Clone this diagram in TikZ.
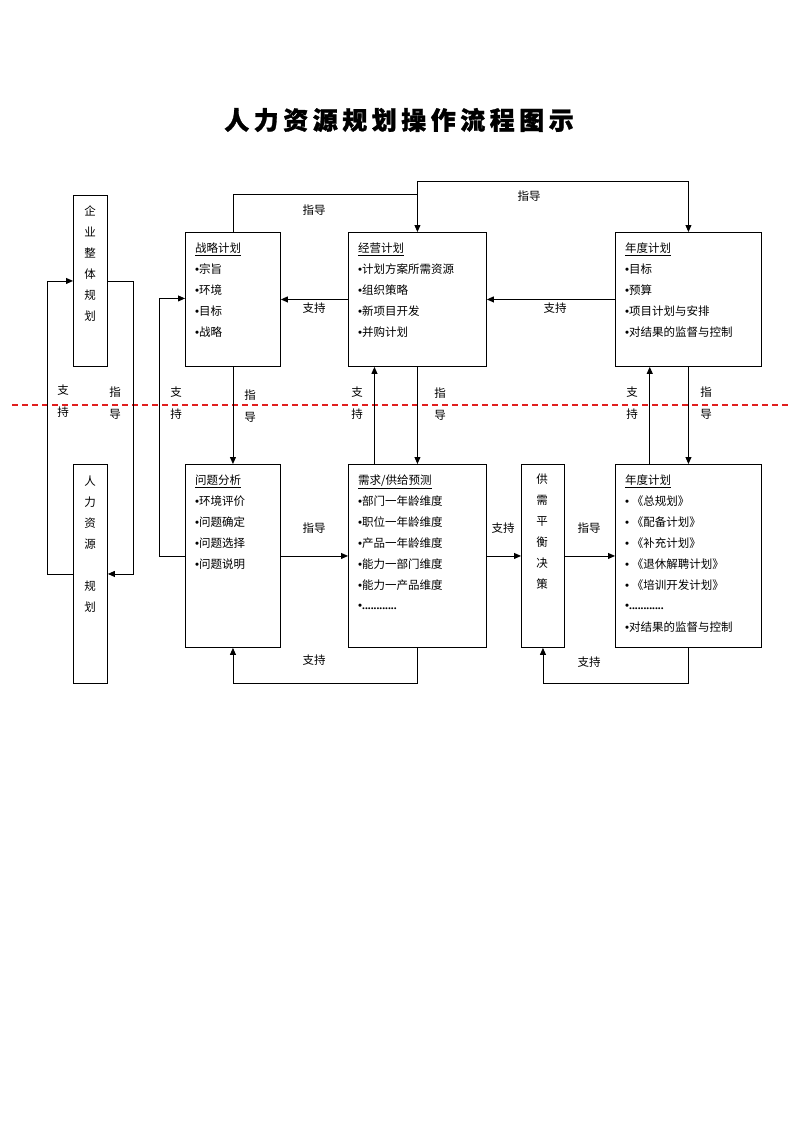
\documentclass[tikz,border=0pt]{standalone}
\usepackage{fontspec}
\setmainfont{Noto Sans CJK SC}
\newfontfamily\titlefont[LetterSpace=18,FakeBold=1.2]{Noto Sans CJK SC}
\newfontfamily\latinfont{Liberation Serif}
\newcommand\mybul{{\latinfont\bfseries •}}
\usetikzlibrary{arrows.meta}
\definecolor{sepred}{RGB}{225,30,30}
\tikzset{
  box/.style={draw, line width=0.9pt, inner sep=0pt, anchor=north west},
  conn/.style={line width=0.9pt},
  arr/.style={conn, -{Triangle[length=7pt,width=6pt]}},
  lbl/.style={font=\fontsize{11.5}{14}\selectfont, inner sep=0pt},
  vlbl/.style={align=center, font=\fontsize{11.5}{21.5}\selectfont, inner sep=0pt},
  vtxt/.style={align=center, font=\fontsize{11.5}{21}\selectfont, inner sep=0pt},
  txt/.style={anchor=base west, font=\fontsize{11.5}{14}\selectfont, inner sep=0pt},
  sep/.style={draw=sepred, line width=1.1pt, dash pattern=on 6pt off 4pt},
}
\begin{document}
\begin{tikzpicture}[x=1pt,y=-1pt]
\useasboundingbox (0,0) rectangle (800,1132);
\fill[white] (0,0) rectangle (800,1132);

% title
\node[font=\titlefont\bfseries\fontsize{25}{28}\selectfont, inner sep=0pt] (title) at (399,120) {人力资源规划操作流程图示};

% left boxes
\node[box, minimum width=34, minimum height=171] (qy) at (73,195) {};
\node[vtxt] (qyt) at (90,264) {企\\业\\整\\体\\规\\划};
\node[box, minimum width=34, minimum height=219] (rl) at (73,464) {};
\node[vtxt] (rlt) at (90,544) {人\\力\\资\\源\\~\\规\\划};

% top row
\node[box, minimum width=95, minimum height=134] (zl) at (185,232) {};
\node[box, minimum width=138, minimum height=134] (jy) at (348,232) {};
\node[box, minimum width=146, minimum height=134] (nd1) at (615,232) {};

% bottom row
\node[box, minimum width=95, minimum height=183] (wt) at (185,464) {};
\node[box, minimum width=138, minimum height=183] (xq) at (348,464) {};
\node[box, minimum width=43, minimum height=183] (gx) at (521,464) {};
\node[vtxt] (gxt) at (542,531.5) {供\\需\\平\\衡\\决\\策};
\node[box, minimum width=146, minimum height=183] (nd2) at (615,464) {};

% texts top row
\node[txt] (zl0) at (195,252.5) {\underline{战略计划}};
\node[txt] (zl1) at (195,273) {\mybul 宗旨};
\node[txt] (zl2) at (195,294) {\mybul 环境};
\node[txt] (zl3) at (195,315) {\mybul 目标};
\node[txt] (zl4) at (195,336) {\mybul 战略};

\node[txt] (jy0) at (358,252.5) {\underline{经营计划}};
\node[txt] (jy1) at (358,273) {\mybul 计划方案所需资源};
\node[txt] (jy2) at (358,294) {\mybul 组织策略};
\node[txt] (jy3) at (358,315) {\mybul 新项目开发};
\node[txt] (jy4) at (358,336) {\mybul 并购计划};

\node[txt] (nda0) at (625,252.5) {\underline{年度计划}};
\node[txt] (nda1) at (625,273) {\mybul 目标};
\node[txt] (nda2) at (625,294) {\mybul 预算};
\node[txt] (nda3) at (625,315) {\mybul 项目计划与安排};
\node[txt] (nda4) at (625,336) {\mybul 对结果的监督与控制};

% texts bottom row
\node[txt] (wt0) at (195,484.5) {\underline{问题分析}};
\node[txt] (wt1) at (195,505) {\mybul 环境评价};
\node[txt] (wt2) at (195,526) {\mybul 问题确定};
\node[txt] (wt3) at (195,547) {\mybul 问题选择};
\node[txt] (wt4) at (195,568) {\mybul 问题说明};

\node[txt] (xq0) at (358,484.5) {\underline{需求/供给预测}};
\node[txt] (xq1) at (358,505) {\mybul 部门一年龄维度};
\node[txt] (xq2) at (358,526) {\mybul 职位一年龄维度};
\node[txt] (xq3) at (358,547) {\mybul 产品一年龄维度};
\node[txt] (xq4) at (358,568) {\mybul 能力一部门维度};
\node[txt] (xq5) at (358,589) {\mybul 能力一产品维度};
\node[txt] (xq6) at (358,609) {\mybul{\latinfont\bfseries ............}};

\node[txt] (ndb0) at (625,484.5) {\underline{年度计划}};
\node[txt] (ndb1) at (625,505) {\mybul\ 《总规划》};
\node[txt] (ndb2) at (625,526) {\mybul\ 《配备计划》};
\node[txt] (ndb3) at (625,547) {\mybul\ 《补充计划》};
\node[txt] (ndb4) at (625,568) {\mybul\ 《退休解聘计划》};
\node[txt] (ndb5) at (625,589) {\mybul\ 《培训开发计划》};
\node[txt] (ndb6) at (625,609) {\mybul{\latinfont\bfseries ............}};
\node[txt] (ndb7) at (625,631) {\mybul 对结果的监督与控制};

% separator
\coordinate (sepL) at (12,405);
\coordinate (sepR) at (788,405);
\draw[sep] (sepL) -- (sepR);

% left loop
\draw[arr] (rl.west) -- ++(-26,0) |- (qy.west);
\draw[arr] (qy.east) -- ++(26,0) |- (rl.east);
\node[vlbl] (l1) at (63,401) {支\\持};
\node[vlbl] (l2) at (115,403) {指\\导};

% second loop
\draw[arr] (wt.west) -- ++(-26,0) |- ([yshift=1pt]zl.west);
\node[vlbl] (l3) at (176,403) {支\\持};

% top connectors
\coordinate (jmid) at (jy.north |- 0,194.3);
\coordinate (jtop) at (jy.north |- 0,181);
\draw[arr] (zl.north) |- (jmid) -- (jy.north);
\draw[conn] (jmid) -- (jtop);
\draw[arr] (jtop) -| (nd1.north);
\node[lbl] (l4) at (314,210) {指导};
\node[lbl] (l5) at (529,196) {指导};

\draw[arr] (jy.west) -- (zl.east);
\draw[arr] (nd1.west) -- (jy.east);
\node[lbl] (l6) at (314,308) {支持};
\node[lbl] (l7) at (555,308) {支持};

% vertical connectors
\draw[arr] (zl.south) -- (wt.north);
\node[vlbl] (l8) at (250,406) {指\\导};
\draw[arr] ([xshift=-43pt]xq.north) -- ([xshift=-43pt]jy.south);
\node[vlbl] (l9) at (357,403) {支\\持};
\draw[arr] (jy.south) -- (xq.north);
\node[vlbl] (l10) at (440,404) {指\\导};
\draw[arr] ([xshift=-38.7pt]nd2.north) -- ([xshift=-38.7pt]nd1.south);
\node[vlbl] (l11) at (632,403) {支\\持};
\draw[arr] (nd1.south) -- (nd2.north);
\node[vlbl] (l12) at (706,403) {指\\导};

% bottom horizontal
\draw[arr] (wt.east) -- (xq.west);
\node[lbl] (l13) at (314,528) {指导};
\draw[arr] (xq.east) -- (gx.west);
\node[lbl] (l14) at (503,528) {支持};
\draw[arr] (gx.east) -- (nd2.west);
\node[lbl] (l15) at (589,528) {指导};

% bottom loops
\draw[arr] (xq.south) -- ++(0,36) -| (wt.south);
\node[lbl] (l16) at (314,660) {支持};
\draw[arr] (nd2.south) -- ++(0,36) -| (gx.south);
\node[lbl] (l17) at (589,662) {支持};
\end{tikzpicture}
\end{document}
